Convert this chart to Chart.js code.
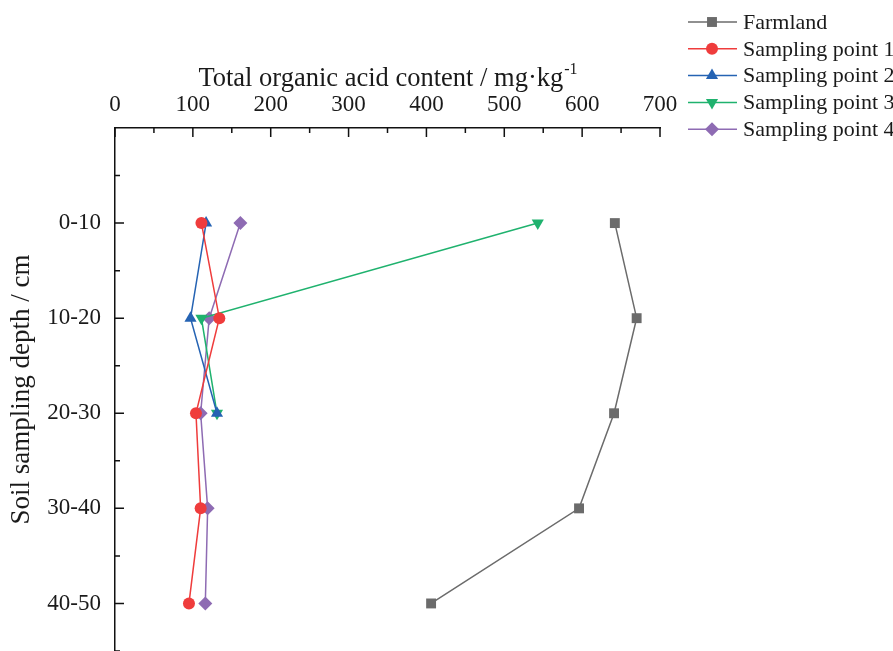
<!DOCTYPE html>
<html>
<head>
<meta charset="utf-8">
<script src="https://cdn.jsdelivr.net/npm/chart.js@4.4.1/dist/chart.umd.min.js"></script>
<style>
  html, body { margin: 0; padding: 0; background: #fff; overflow: hidden; }
</style>
</head>
<body>
<canvas id="chart" width="893" height="651"></canvas>
<script>
// depth categories (top to bottom)
const depths = ["0-10", "10-20", "20-30", "30-40", "40-50"];

// total organic acid content, mg/kg
const farmland = [642, 670, 641, 596, 406];
const point1 = [111, 134, 104, 110, 95];
const point2 = [117, 97, 131];
const point3 = [543, 111, 131];
const point4 = [161, 121, 110, 119, 116];

const xTicks = [0, 100, 200, 300, 400, 500, 600, 700];

const FONT = "'Liberation Serif', 'Times New Roman', serif";
const TEXT = "#1a1a1a";

// x = content, y = depth index
const toPoints = (vals) => vals.map((v, i) => ({ x: v, y: i }));

const series = [
  { label: "Farmland", data: farmland, color: "#6b6b6b", style: "rect", radius: 7 },
  { label: "Sampling point 1", data: point1, color: "#ef3c3c", style: "circle", radius: 6 },
  { label: "Sampling point 2", data: point2, color: "#2563b3", style: "triangle", radius: 7 },
  { label: "Sampling point 3", data: point3, color: "#1fb26e", style: "triangle", radius: 7, rotation: 180 },
  { label: "Sampling point 4", data: point4, color: "#8e6bb3", style: "rectRot", radius: 7 },
];

// inward major/minor ticks on the two axis lines + x title with superscript
const axisExtras = {
  id: "axisExtras",
  afterDraw(chart) {
    const ctx = chart.ctx;
    const xs = chart.scales.x;
    const ys = chart.scales.y;
    const area = chart.chartArea;
    ctx.save();
    ctx.strokeStyle = "#111";
    ctx.lineWidth = 1.5;
    ctx.beginPath();
    for (let v = 0; v <= 700; v += 50) {
      const px = xs.getPixelForValue(v);
      const len = v % 100 === 0 ? 9 : 5;
      ctx.moveTo(px, area.top);
      ctx.lineTo(px, area.top + len);
    }
    for (let v = -0.5; v <= 4.5; v += 0.5) {
      const py = ys.getPixelForValue(v);
      const len = Number.isInteger(v) ? 9 : 5;
      ctx.moveTo(area.left, py);
      ctx.lineTo(area.left + len, py);
    }
    ctx.stroke();

    // "Total organic acid content / mg·kg" + superscript "-1"
    const main = "Total organic acid content / mg·kg";
    const sup = "-1";
    ctx.fillStyle = TEXT;
    ctx.textBaseline = "alphabetic";
    ctx.textAlign = "left";
    ctx.font = "26.5px " + FONT;
    const wMain = ctx.measureText(main).width;
    ctx.font = "16px " + FONT;
    const wSup = ctx.measureText(sup).width;
    const x0 = (area.left + area.right) / 2 - (wMain + wSup) / 2;
    ctx.font = "26.5px " + FONT;
    ctx.fillText(main, x0, 86);
    ctx.font = "16px " + FONT;
    ctx.fillText(sup, x0 + wMain + 1, 74);
    ctx.restore();
  }
};

// legend in the top right corner, over the chart
const cornerLegend = {
  id: "cornerLegend",
  afterDraw(chart) {
    const ctx = chart.ctx;
    ctx.save();
    chart.data.datasets.forEach((ds, i) => {
      const y = 22 + i * 26.8;
      ctx.strokeStyle = ds.borderColor;
      ctx.lineWidth = 1.5;
      ctx.beginPath();
      ctx.moveTo(688, y);
      ctx.lineTo(737, y);
      ctx.stroke();
      ctx.fillStyle = ds.backgroundColor;
      Chart.helpers.drawPoint(ctx, {
        pointStyle: ds.pointStyle,
        radius: ds.pointRadius,
        rotation: ds.pointRotation || 0,
        borderWidth: 0
      }, 712, y);
      ctx.fillStyle = TEXT;
      ctx.font = "22px " + FONT;
      ctx.textBaseline = "middle";
      ctx.textAlign = "left";
      ctx.fillText(ds.label, 743, y + 1);
    });
    ctx.restore();
  }
};

new Chart(document.getElementById("chart"), {
  type: "line",
  data: {
    datasets: series.map((s) => ({
      label: s.label,
      data: toPoints(s.data),
      borderColor: s.color,
      backgroundColor: s.color,
      borderWidth: 1.5,
      pointStyle: s.style,
      pointRadius: s.radius,
      pointHoverRadius: s.radius,
      pointRotation: s.rotation || 0,
      pointBorderWidth: 0,
      fill: false,
      tension: 0,
    })),
  },
  options: {
    responsive: false,
    animation: false,
    layout: { autoPadding: false, padding: { left: 0, right: 233, top: 0, bottom: 0 } },
    plugins: {
      legend: { display: false },
      tooltip: { enabled: false },
    },
    scales: {
      x: {
        type: "linear",
        position: "top",
        min: 0,
        max: 700,
        afterBuildTicks: (scale) => {
          scale.ticks = xTicks.map((v) => ({ value: v }));
        },
        afterFit: (scale) => {
          scale.height = 128;
          scale.paddingLeft = 0;
          scale.paddingRight = 0;
        },
        grid: { display: false },
        border: { display: true, color: "#111", width: 1.5 },
        ticks: {
          color: TEXT,
          font: { family: FONT, size: 23 },
          padding: 1,
          maxRotation: 0,
        },
        title: { display: false },
      },
      y: {
        type: "linear",
        reverse: true,
        min: -1,
        max: 4.5,
        afterBuildTicks: (scale) => {
          scale.ticks = depths.map((d, i) => ({ value: i }));
        },
        afterFit: (scale) => {
          scale.width = 115;
          scale.paddingTop = 0;
          scale.paddingBottom = 0;
        },
        grid: { display: false },
        border: { display: true, color: "#111", width: 1.5 },
        ticks: {
          color: TEXT,
          font: { family: FONT, size: 23 },
          padding: 6,
          callback: (v) => depths[v] || "",
        },
        title: {
          display: true,
          text: "Soil sampling depth / cm",
          color: TEXT,
          font: { family: FONT, size: 27 },
          padding: { top: 6 },
        },
      },
    },
  },
  plugins: [axisExtras, cornerLegend],
});
</script>
</body>
</html>
